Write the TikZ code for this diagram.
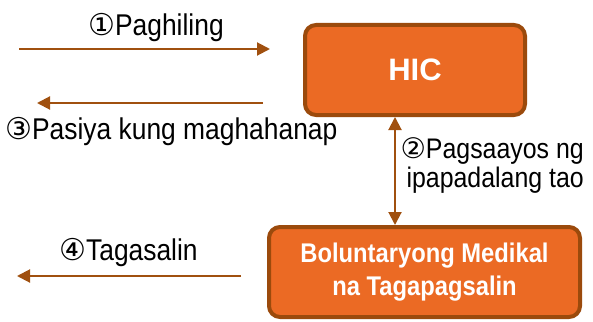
\documentclass[tikz,border=0pt]{standalone}
\usepackage{fontspec}
\setmainfont{Liberation Sans}[FakeStretch=0.88]
\newfontfamily\plainsans{Liberation Sans}
\newfontfamily\circfont{DejaVu Sans}
\usetikzlibrary{arrows.meta}
\definecolor{boxfill}{HTML}{EB6A24}
\definecolor{boxline}{HTML}{9B4A0C}
\definecolor{arrowc}{HTML}{A0500F}
\tikzset{
  orangebox/.style={draw=boxline, line width=4pt, fill=boxfill, rounded corners=11pt,
    text=white, inner sep=0pt},
  flow/.style={draw=arrowc, line width=2pt, -{Triangle[width=13pt,length=13pt]}},
  flowboth/.style={draw=arrowc, line width=2pt, {Triangle[width=13pt,length=13pt]}-{Triangle[width=13pt,length=13pt]}},
  lbl/.style={inner sep=0pt, anchor=base west, font=\fontsize{30}{35}\selectfont},
  lbltwo/.style={inner sep=0pt, anchor=base east, font=\fontsize{28.3}{33}\selectfont},
}
\begin{document}
\begin{tikzpicture}[x=1pt,y=-1pt]
\useasboundingbox (0,0) rectangle (593,321);
% boxes
\node[orangebox, minimum width=220pt, minimum height=90pt,
  font=\plainsans\bfseries\fontsize{31}{36}\selectfont] (hic) at (415,70) {HIC};
\node[orangebox, minimum width=311pt, minimum height=90pt, align=center,
  font=\bfseries\fontsize{27}{33}\selectfont] (bol) at (424.5,272)
  {Boluntaryong Medikal\\na Tagapagsalin};
% arrow end points
\coordinate (a1s) at (19,49);
\coordinate (a1e) at (270,49);
\coordinate (a3s) at (263,103);
\coordinate (a3e) at (37,103);
\coordinate (a4s) at (241,276);
\coordinate (a4e) at (17,276);
\coordinate (vx) at (395,170);
\draw[flow] (a1s) -- (a1e);
\draw[flow] (a3s) -- (a3e);
\draw[flow] (a4s) -- (a4e);
\draw[flowboth] (vx |- hic.south) -- (vx |- bol.north);
% labels
\node[lbl] (l1) at (88,36) {{\circfont ①}Paghiling};
\node[lbl] (l3) at (5,139) {{\circfont ③}Pasiya kung maghahanap};
\node[lbl] (l4) at (59,260) {{\circfont ④}Tagasalin};
\node[lbltwo] (l2a) at (584,158) {{\circfont ②}Pagsaayos ng};
\node[lbltwo] (l2b) at (584,187) {ipapadalang tao};
\end{tikzpicture}
\end{document}
